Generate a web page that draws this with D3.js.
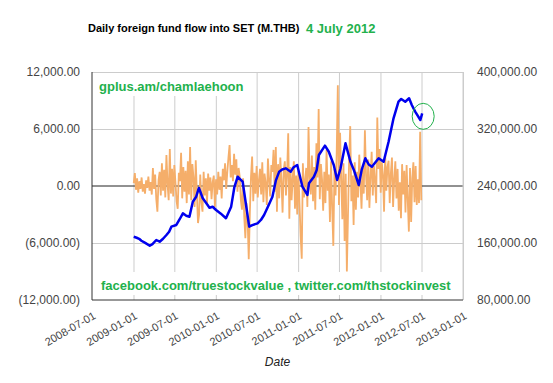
<!DOCTYPE html>
<html>
    <head>
        <meta charset="UTF-8">
        <title>Daily foreign fund flow into SET</title>
        <style>
            body { margin: 0; background: #fff; }
            text { font-family: "Liberation Sans", Arial, sans-serif; }
        </style>
    </head>
    <body>
        <script src="https://d3js.org/d3.v7.min.js"></script>
        <svg></svg>
        <script>
            // daily net foreign flow (M.THB), one reading every 5 days from flowStart
            let flowStart = "2009-01-02";
            let flowStepDays = 5;
            let flowValues = [
                300, 1370, -400, 800, -700, 500, -300, 900, -600, 200, -800, 600, -200, 1000, -500, 400,
                -900, 1900, -300, 1200, -1400, -2700, 600, 1500, -1000, 2400, -500, 1700, -1200, 3260, 200, -1500,
                3900, -800, 1800, -1100, 2200, 400, -1600, -2400, 1400, 500, 3500, -1300, 2000, -600, 1600, -1800,
                2600, -900, 4100, -1500, 2300, 900, -2200, 2700, -800, -3900, -3000, 1200, -1700, -2700, 1500, -1000,
                800, -1800, 1300, -500, 900, -1400, 400, 1100, -2200, 700, -900, 1500, -400, 1000, -1300, 1800,
                600, 2400, -300, 1500, 3000, 4300, 900, 2200, 500, 3400, 1200, 2800, -600, 1900, 1000, -1500,
                -2500, 800, -3200, -5500, -1800, -3500, -7700, -2800, 1000, 3100, -1600, 1400, -800, 2100, -1200, 600,
                1800, -900, 2500, -1700, 1300, 300, -2000, 2900, 700, -1100, 2200, 1500, 3800, -600, 4100, -2700,
                2300, -1300, 3000, 500, -2800, 1700, 2600, -1000, 1200, 5550, -3450, 2000, -1500, 800, 2600, -2400,
                1100, -3000, 1600, -1800, -5200, -7650, 2400, -1200, 600, 1900, -2200, 6200, 1000, -900, 3200, -1600,
                2000, -2500, 4500, 900, 8100, -1400, 2300, 700, -2600, 1500, -1800, 3800, -500, 1200, -3800, 2600,
                -2400, -6300, 1800, -1000, 3500, 10600, -2000, 5600, 800, -3500, 2400, -5800, 1300, -9000, -3200, 2700,
                6300, -1600, 1100, -4100, 2500, -2500, 1500, -1200, 3300, 600, -2400, 1900, -800, 5860, 1200, -1500,
                2800, -2300, 900, 3600, -1000, 2100, 500, -1800, 7200, 1800, 3900, -700, 2500, 1200, -2700, 3300,
                -500, 2000, 2660, -1800, 1300, 3000, -2200, 700, 2600, -1300, 1800, -2600, 400, -3400, 2300, -900,
                1600, -2800, 2200, -1500, -4800, 1900, -3800, 800, 2500, -1700, 2100, -2000, 700, -1800, 5700, -1500
            ];

            // cumulative holding (right axis)
            let cumDates = ["2009-01-02","2009-01-15","2009-01-26","2009-02-05","2009-02-22","2009-03-14",
                "2009-03-26","2009-04-12","2009-04-27","2009-05-12","2009-05-27","2009-06-08","2009-06-18",
                "2009-07-10","2009-07-24","2009-08-08","2009-08-23","2009-09-06","2009-09-21",
                "2009-10-06","2009-10-18","2009-10-26","2009-11-04","2009-11-20","2009-12-04","2009-12-18",
                "2010-01-02","2010-01-22","2010-02-15","2010-03-10","2010-03-24",
                "2010-04-08","2010-04-18","2010-04-30","2010-05-29","2010-06-12","2010-07-05","2010-07-20",
                "2010-08-03","2010-08-20","2010-09-09","2010-09-24","2010-10-09","2010-10-22",
                "2010-11-07","2010-11-29","2010-12-12","2010-12-28","2011-01-20","2011-02-11","2011-02-18","2011-03-12",
                "2011-03-24","2011-04-03","2011-04-30","2011-05-17","2011-06-08","2011-06-23","2011-07-08","2011-07-30",
                "2011-08-21","2011-09-05","2011-09-27","2011-10-10","2011-10-26","2011-11-10","2011-11-24","2011-12-24",
                "2012-01-15","2012-02-06","2012-02-28","2012-03-21","2012-04-02","2012-04-20","2012-05-07","2012-05-19",
                "2012-06-03","2012-06-26","2012-07-04"];
            let cumValues = [168800, 167400, 165900, 163200, 160100, 156200,
                158500, 164200, 161800, 166000, 171200, 175800, 182900,
                185300, 193000, 201700, 198300, 196900, 218000,
                225000, 237200, 230500, 222700, 215800, 209500, 210900,
                206300, 201500, 194700, 211000, 238000,
                253100, 249800, 246000, 182900, 185100, 187600, 192300,
                199300, 211000, 225000, 247500, 260100, 263200,
                264800, 260100, 266300, 269500, 239000, 227400, 243800, 253100,
                262000, 283500, 296600, 288100, 269500, 248400, 264800, 299900,
                274100, 262500, 241400, 263000, 278900, 270200, 267100, 278900,
                274100, 302200, 335000, 358300, 362100, 358300, 363100, 353700,
                344300, 332600, 342000];

            let leftTicks = [-12000, -6000, 0, 6000, 12000];
            let rightTicks = [80000, 160000, 240000, 320000, 400000];
            let dateTicks = ["2008-07-01","2009-01-01","2009-07-01","2010-01-01","2010-07-01",
                "2011-01-01","2011-07-01","2012-01-01","2012-07-01","2013-01-01"];

            let parse = d3.timeParse("%Y-%m-%d");
            let margin = {top: 72, left: 92},
                width = 371,
                height = 228;

            let svg = d3.select("svg")
                .attr("width", 553)
                .attr("height", 383);
            let chart = svg.append("g")
                .attr("transform", "translate(" + margin.left + "," + margin.top + ")");

            let xScale = d3.scaleTime()
                .domain([parse("2008-07-01"), parse("2013-01-01")])
                .range([0, width]);
            let yLeft = d3.scaleLinear()
                .domain([-12000, 12000])
                .range([height, 0]);
            let yRight = d3.scaleLinear()
                .domain([80000, 400000])
                .range([height, 0]);

            let num = d3.format(",.2f");
            let fmt = v => v < 0 ? "(" + num(-v) + ")" : num(v);

            // gridlines
            chart.append("g")
                .attr("class", "grid")
                .attr("transform", "translate(0," + height + ")")
                .call(d3.axisBottom(xScale).tickValues(dateTicks.slice(1).map(parse)).tickSize(-height).tickFormat(""));
            chart.append("g")
                .attr("class", "grid")
                .call(d3.axisLeft(yLeft).tickValues([-6000, 6000, 12000]).tickSize(-width).tickFormat(""));
            chart.selectAll(".grid path").remove();
            chart.selectAll(".grid line").attr("stroke", "#cccccc");

            // watermark texts on white boxes
            let notes = [
                {t: "gplus.am/chamlaehoon", x: 7, y: 19},
                {t: "facebook.com/truestockvalue , twitter.com/thstockinvest", x: 9, y: 218}
            ];
            notes.forEach(n => {
                let g = chart.append("g");
                let txt = g.append("text")
                    .attr("x", n.x)
                    .attr("y", n.y)
                    .attr("font-size", 13)
                    .attr("font-weight", "bold")
                    .attr("fill", "#22b14c")
                    .text(n.t);
                let bb = txt.node().getBBox();
                g.insert("rect", "text")
                    .attr("x", bb.x - 3)
                    .attr("y", n.y - 18)
                    .attr("width", bb.width + 6)
                    .attr("height", 23)
                    .attr("fill", "#fff");
            });

            // zero line
            chart.append("line")
                .attr("x1", 0).attr("x2", width)
                .attr("y1", yLeft(0)).attr("y2", yLeft(0))
                .attr("stroke", "#222");

            // daily flow
            let flowData = flowValues.map((v, i) => ({date: d3.timeDay.offset(parse(flowStart), i * flowStepDays), v: v}));
            chart.append("path")
                .datum(flowData)
                .attr("fill", "none")
                .attr("stroke", "#f5ae6a")
                .attr("stroke-width", 1.8)
                .attr("d", d3.line().x(d => xScale(d.date)).y(d => yLeft(d.v)));

            // cumulative
            let cumData = cumDates.map((d, i) => ({date: parse(d), v: cumValues[i]}));
            chart.append("path")
                .datum(cumData)
                .attr("fill", "none")
                .attr("stroke", "#0000ee")
                .attr("stroke-width", 2.5)
                .attr("stroke-linejoin", "round")
                .attr("d", d3.line().x(d => xScale(d.date)).y(d => yRight(d.v)));

            let last = cumData[cumData.length - 1];
            chart.append("ellipse")
                .attr("cx", xScale(last.date) + 1)
                .attr("cy", yRight(last.v) + 3)
                .attr("rx", 11)
                .attr("ry", 13)
                .attr("fill", "none")
                .attr("stroke", "#22b14c")
                .attr("stroke-width", 1);

            // frame
            chart.append("line").attr("x1", width).attr("x2", width).attr("y1", 0).attr("y2", height).attr("stroke", "#cccccc");
            chart.append("line").attr("x1", 0).attr("x2", 0).attr("y1", 0).attr("y2", height).attr("stroke", "#333");
            chart.append("line").attr("x1", 0).attr("x2", width).attr("y1", height).attr("y2", height).attr("stroke", "#333");

            // axes
            let left = chart.append("g")
                .call(d3.axisLeft(yLeft).tickValues(leftTicks).tickSize(0).tickPadding(12).tickFormat(fmt));
            let right = chart.append("g")
                .attr("transform", "translate(" + width + ",0)")
                .call(d3.axisRight(yRight).tickValues(rightTicks).tickSize(0).tickPadding(14).tickFormat(fmt));
            let bottom = chart.append("g")
                .attr("transform", "translate(0," + height + ")")
                .call(d3.axisBottom(xScale).tickValues(dateTicks.map(parse)).tickSize(0).tickFormat(d3.timeFormat("%Y-%m-%d")));
            [left, right, bottom].forEach(a => {
                a.select(".domain").remove();
                a.selectAll("text").attr("fill", "#444").attr("font-family", "Liberation Sans, Arial, sans-serif");
            });
            left.selectAll("text").attr("font-size", 12);
            right.selectAll("text").attr("font-size", 12);
            bottom.selectAll("text")
                .attr("font-size", 11)
                .attr("text-anchor", "end")
                .attr("dy", null)
                .attr("y", null)
                .attr("transform", "translate(4,18) rotate(-30)");

            chart.append("text")
                .attr("x", width / 2)
                .attr("y", height + 66)
                .attr("text-anchor", "middle")
                .attr("font-size", 12)
                .attr("font-style", "italic")
                .attr("fill", "#222")
                .text("Date");

            // title
            svg.append("text")
                .attr("x", 88)
                .attr("y", 32)
                .attr("font-size", 11)
                .attr("font-weight", "bold")
                .attr("fill", "#000")
                .text("Daily foreign fund flow into SET (M.THB)");
            svg.append("text")
                .attr("x", 306)
                .attr("y", 33)
                .attr("font-size", 13)
                .attr("font-weight", "bold")
                .attr("fill", "#22b14c")
                .text("4 July 2012");
        </script>
    </body>
</html>
